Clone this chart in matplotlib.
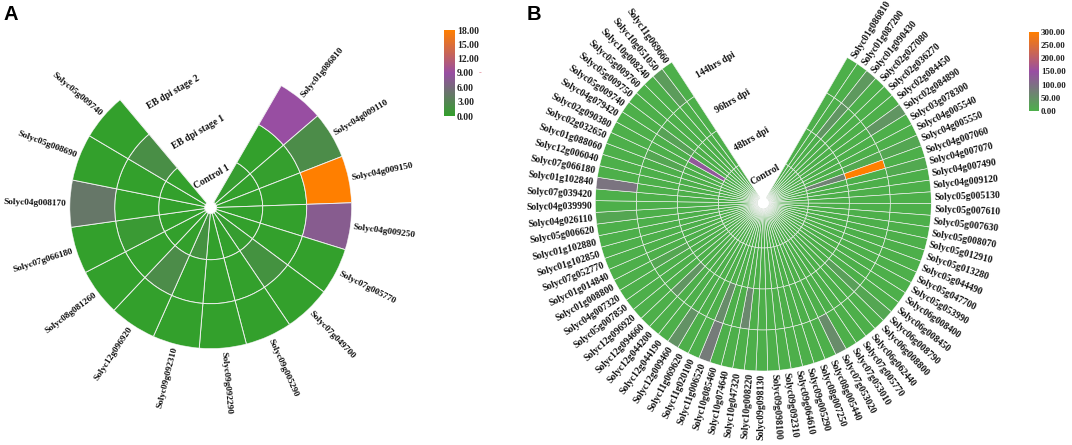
import numpy as np
import matplotlib
matplotlib.use("Agg")
from matplotlib import pyplot as plt
from matplotlib.cm import ScalarMappable
from matplotlib.colors import LinearSegmentedColormap, Normalize

W, H = 1072, 445

# panel A
genes_a = ["Solyc01g086810", "Solyc04g009110", "Solyc04g009150", "Solyc04g009250",
           "Solyc07g005770", "Solyc07g049700", "Solyc09g005290", "Solyc09g092290",
           "Solyc09g092310", "Solyc12g096920", "Solyc08g081260", "Solyc07g066180",
           "Solyc04g008170", "Solyc05g008690", "Solyc05g009740"]
rings_a = ["Control 1", "EB dpi stage 1", "EB dpi stage 2"]
control_a = [0.3, 0, 0, 0, 0, 0.3, 0, 0, 1.5, 0, 0, 0, 0, 0, 0]
stage1_a = [0, 0.2, 0, 0, 0, 1.5, 0, 0, 0, 2.2, 0, 0.7, 0, 0, 2]
stage2_a = [9, 2.2, 18, 7.5, 0, 0, 0, 0, 0, 0, 0, 0, 4.5, 0, 0]
ticks_a = [0, 3, 6, 9, 12, 15, 18]

# panel B
genes_b = ["Solyc01g086810", "Solyc01g087200", "Solyc01g090430", "Solyc02g027080",
           "Solyc02g036270", "Solyc02g084450", "Solyc02g084890", "Solyc03g078300",
           "Solyc04g005540", "Solyc04g005550", "Solyc04g007060", "Solyc04g007070",
           "Solyc04g007490", "Solyc04g009120", "Solyc05g005130", "Solyc05g007610",
           "Solyc05g007630", "Solyc05g008070", "Solyc05g012910", "Solyc05g013280",
           "Solyc05g044490", "Solyc05g047700", "Solyc05g053990", "Solyc06g008400",
           "Solyc06g008450", "Solyc06g008790", "Solyc06g008800", "Solyc06g062440",
           "Solyc07g005770", "Solyc07g053010", "Solyc07g053020", "Solyc08g005440",
           "Solyc08g007250", "Solyc09g005290", "Solyc09g064610", "Solyc09g092310",
           "Solyc09g098100", "Solyc09g098130", "Solyc10g008220", "Solyc10g047320",
           "Solyc10g074640", "Solyc10g085460", "Solyc11g006520", "Solyc11g020100",
           "Solyc11g069620", "Solyc12g009460", "Solyc12g044190", "Solyc12g044200",
           "Solyc12g094660", "Solyc12g096920", "Solyc05g007850", "Solyc04g007320",
           "Solyc01g008800", "Solyc01g014840", "Solyc07g052770", "Solyc01g102850",
           "Solyc01g102880", "Solyc05g006620", "Solyc04g026110", "Solyc04g039990",
           "Solyc07g039420", "Solyc01g102840", "Solyc07g066180", "Solyc12g006040",
           "Solyc01g088060", "Solyc02g032650", "Solyc02g090380", "Solyc04g079420",
           "Solyc05g009740", "Solyc05g009750", "Solyc05g009760", "Solyc10g008240",
           "Solyc10g051050", "Solyc11g069660"]
rings_b = ["Control", "48hrs dpi", "96hrs dpi", "144hrs dpi"]
control_b = [0] * 74
hrs48_b = [0] * 74
hrs96_b = [0] * 74
hrs144_b = [0] * 74
for i, v in {10: 70, 67: 135}.items():
    hrs48_b[i] = v
for i, v in {2: 40, 9: 10, 10: 300, 25: 25, 39: 60, 42: 55, 48: 40, 52: 15,
             65: 15, 68: 20}.items():
    hrs96_b[i] = v
for i, v in {2: 35, 6: 40, 9: 15, 11: 10, 25: 15, 30: 55, 42: 80, 45: 45,
             58: 15, 61: 92, 72: 30}.items():
    hrs144_b[i] = v
ticks_b = [0, 50, 100, 150, 200, 250, 300]

cmap_a = LinearSegmentedColormap.from_list("a", ["#33a02c", "#984ea3", "#ff7f00"])
cmap_b = LinearSegmentedColormap.from_list("b", ["#4daf4a", "#984ea3", "#ff7f00"])

plt.rcParams["font.family"] = ["Liberation Serif", "DejaVu Serif"]
fig = plt.figure(figsize=(W / 100, H / 100), dpi=100)


def ring_chart(cx, cy, edges, start, end, genes, series, cmap, vmax, lw, gap, size):
    R = edges[-1]
    ax = fig.add_axes([(cx - R) / W, 1 - (cy + R) / H, 2 * R / W, 2 * R / H],
                      projection="polar")
    ax.set_theta_zero_location("N")
    ax.set_theta_direction(-1)
    ax.set_axis_off()
    ax.set_ylim(0, R)
    norm = Normalize(0, vmax)
    step = (end - start) / len(genes)
    mids = np.radians(start + step * (np.arange(len(genes)) + 0.5))
    for j, vals in enumerate(series):
        ax.bar(mids, edges[j + 1] - edges[j], width=np.radians(step), bottom=edges[j],
               color=cmap(norm(np.array(vals))), edgecolor="#f0f0f0", linewidth=lw)
    for th, name in zip(mids, genes):
        deg = np.degrees(th)
        if deg < 180:
            rot, ha = 90 - deg, "left"
        else:
            rot, ha = 270 - deg, "right"
        ax.text(th, R + gap, name, rotation=rot, ha=ha, va="center", rotation_mode="anchor",
                fontsize=size, fontweight="bold", color="#111111")
    return ax


def ring_names(ax, names, edges, end, offsets):
    for j, name in enumerate(names):
        mid = (edges[j] + edges[j + 1]) / 2
        ax.annotate(name, xy=(np.radians(end), mid), xytext=offsets[j],
                    textcoords="offset pixels", rotation=30, ha="center", va="center",
                    rotation_mode="anchor", fontsize=6.9, fontweight="bold", color="#111111")


def colour_key(x0, x1, y0, y1, cmap, ticks, size, pad):
    cax = fig.add_axes([x0 / W, 1 - y1 / H, (x1 - x0) / W, (y1 - y0) / H])
    cb = fig.colorbar(ScalarMappable(Normalize(ticks[0], ticks[-1]), cmap), cax=cax)
    cb.set_ticks(ticks, labels=["%.2f" % t for t in ticks])
    cb.outline.set_visible(False)
    cax.tick_params(length=0, pad=pad)
    for t in cax.get_yticklabels():
        t.set_fontsize(size)
        t.set_fontweight("bold")
        t.set_color("#222222")


edges_a = [6, 52, 96, 141]
ax_a = ring_chart(210.7, 207.7, edges_a, 30, 320, genes_a,
                  [control_a, stage1_a, stage2_a], cmap_a, 18, 0.65, 3, 6.7)
ring_names(ax_a, rings_a, edges_a, 320, [(20, 9), (35, 19), (39, 25)])
colour_key(444, 455, 30, 116, cmap_a, ticks_a, 7, 1.5)

edges_b = [6, 45, 86, 127, 168]
ax_b = ring_chart(763.3, 203, edges_b, 30, 327, genes_b,
                  [control_b, hrs48_b, hrs96_b, hrs144_b], cmap_b, 300, 0.45, 3, 7)
ring_names(ax_b, rings_b, edges_b, 327, [(16, 7), (24, 9), (27, 12), (33, 14)])
colour_key(1029, 1039, 32, 111, cmap_b, ticks_b, 6.5, 1.5)

# panel letters
fig.text(3 / W, 1 - 20 / H, "A", family="Liberation Sans", fontweight="bold", fontsize=14.5)
fig.text(527 / W, 1 - 20 / H, "B", family="Liberation Sans", fontweight="bold", fontsize=14.5)
fig.text(479 / W, 1 - 73 / H, "-", color="#e08090", fontsize=6, va="center")

fig.savefig("out.png", dpi=100)
